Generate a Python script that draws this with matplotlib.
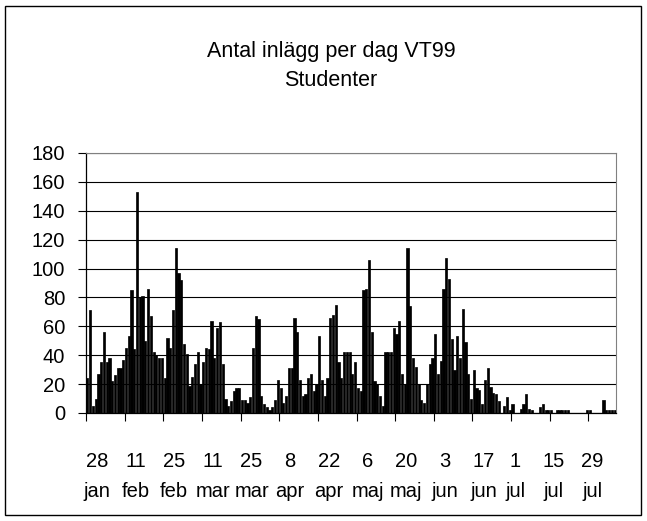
import numpy as np
import matplotlib
matplotlib.use("Agg")
import matplotlib.pyplot as plt
import matplotlib.transforms as mtransforms
from matplotlib.patches import Rectangle

plt.rcParams['font.family'] = ['Liberation Sans', 'DejaVu Sans']

title = "Antal inlägg per dag VT99"
subtitle = "Studenter"
start_date = np.datetime64("1999-01-28")

# posts per day, one row per two weeks, starting 28 jan
posts = [
    24, 71, 5, 10, 27, 35, 56, 35, 38, 22, 26, 31, 31, 37,
    45, 53, 85, 44, 153, 80, 81, 50, 86, 67, 42, 40, 38, 38,
    24, 52, 45, 71, 114, 97, 92, 48, 41, 19, 25, 34, 42, 20,
    35, 45, 44, 64, 38, 59, 63, 34, 10, 5, 8, 15, 17, 17,
    9, 9, 7, 11, 45, 67, 65, 12, 6, 4, 2, 4, 9, 23,
    17, 7, 12, 31, 31, 66, 56, 23, 12, 13, 24, 27, 15, 20,
    53, 23, 12, 24, 66, 68, 75, 35, 24, 42, 42, 42, 27, 35,
    17, 15, 85, 86, 106, 56, 22, 20, 12, 5, 42, 42, 42, 59,
    55, 64, 27, 20, 114, 74, 38, 32, 20, 9, 7, 20, 34, 38,
    55, 27, 36, 86, 107, 93, 51, 30, 53, 38, 72, 49, 27, 10,
    30, 17, 16, 6, 23, 31, 18, 14, 13, 8, 0, 5, 11, 2,
    6, 0, 0, 3, 6, 13, 3, 2, 0, 0, 4, 6, 2, 2,
    2, 0, 2, 2, 2, 2, 2, 0, 0, 0, 0, 0, 0, 2,
    2, 0, 0, 0, 0, 9, 2, 2, 2, 2,
]

tick_labels = ["28\njan", "11\nfeb", "25\nfeb", "11\nmar", "25\nmar", "8\napr",
               "22\napr", "6\nmaj", "20\nmaj", "3\njun", "17\njun", "1\njul",
               "15\njul", "29\njul"]

dates = start_date + np.arange(len(posts))
day_idx = (dates - start_date).astype(int)

W, H = 647, 521
fig = plt.figure(figsize=(W / 100, H / 100), dpi=100)
ax = fig.add_axes([86 / W, 1 - 413 / H, 530 / W, 260 / H])

ax.bar(day_idx + 0.5, posts, width=0.8, color="black",
       edgecolor="black", linewidth=0.5, zorder=3)

ax.set_xlim(0, len(posts))
ax.set_ylim(0, 180)
ax.set_yticks(np.arange(0, 181, 20))
ax.yaxis.grid(True, color="black", linewidth=0.8)
ax.set_axisbelow(True)

tick_pos = day_idx[day_idx % 14 == 0]
ax.set_xticks(tick_pos)
ax.set_xticklabels(tick_labels)

ax.tick_params(axis="y", length=6, width=0.8, pad=9, labelsize=14.5)
ax.tick_params(axis="x", length=6, width=0.8, pad=22, labelsize=14.5)

# the original shifts the labels a bit right of their ticks
for i, t in enumerate(ax.get_xticklabels()):
    t.set_linespacing(1.75)
    dx = 11 if i < 11 else 4
    t.set_transform(t.get_transform() +
                    mtransforms.ScaledTranslation(dx / 100, 0, fig.dpi_scale_trans))

for side in ("top", "right"):
    ax.spines[side].set_color("#808080")
for side in ("left", "bottom"):
    ax.spines[side].set_color("black")
    ax.spines[side].set_linewidth(0.9)

fig.text(331 / W, 1 - 52 / H, title, ha="center", va="center", fontsize=15.5)
fig.text(331 / W, 1 - 80 / H, subtitle, ha="center", va="center", fontsize=15.5)

fig.patches.append(Rectangle((5 / W, 6 / H), 636 / W, 509 / H,
                             transform=fig.transFigure, fill=False,
                             edgecolor="black", linewidth=1))

fig.savefig("out.png", dpi=100)
